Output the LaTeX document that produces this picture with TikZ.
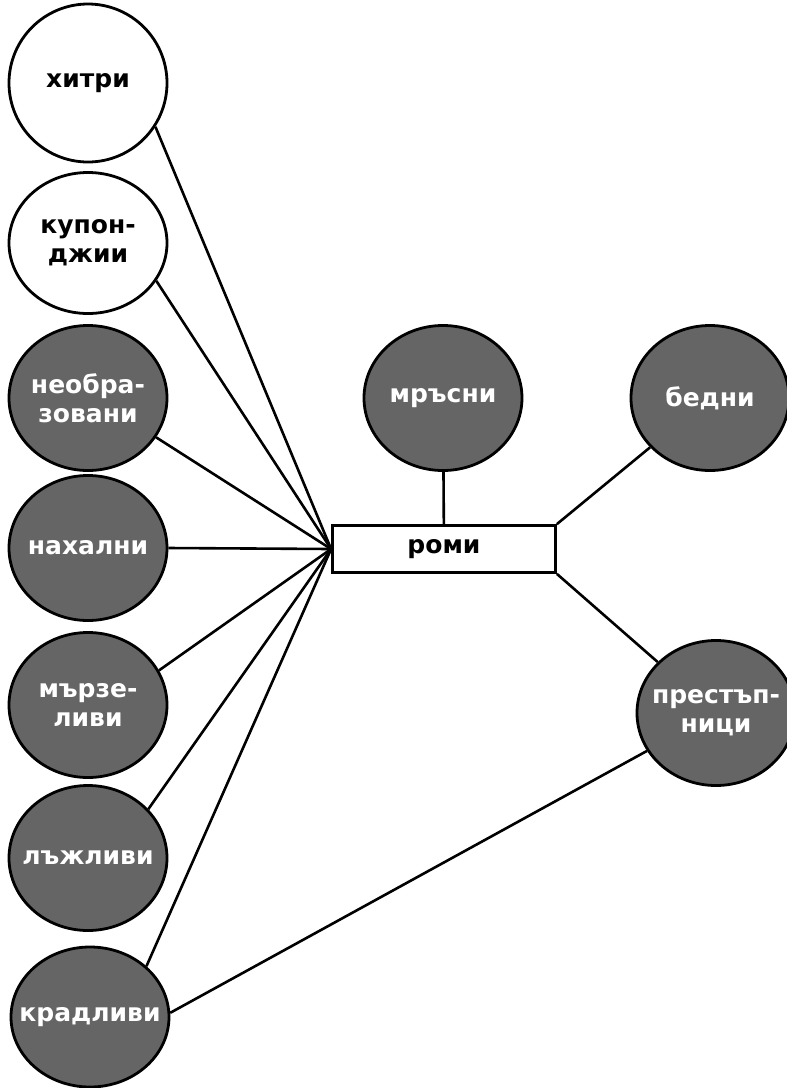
\documentclass[tikz,border=0pt]{standalone}
\usepackage{fontspec}
\setmainfont{DejaVu Sans}
\usetikzlibrary{shapes.geometric}
\definecolor{traitgray}{HTML}{656565}

\tikzset{
    bubble/.style={ellipse, draw=black, line width=2.8pt, minimum width=158pt, minimum height=145pt, inner sep=0pt},
    txt/.style={font=\bfseries\fontsize{25}{29}\selectfont, align=center},
    pos/.style={bubble, fill=white, label={[txt, text=black]center:#1}},
    neg/.style={bubble, fill=traitgray, label={[txt, text=white]center:#1}},
    link/.style={line width=2.6pt},
}

\begin{document}
\begin{tikzpicture}[x=1pt, y=-1pt]
    \useasboundingbox (0,0) rectangle (787,1088); % page frame
    \node [pos={хитри}, minimum height=158pt] (hitri) at (88,83) {}; % top white bubble
    \node [pos={купон-\\джии}, minimum height=141pt] (kupon) at (88,243) {}; % second white bubble
    \node [neg={необра-\\зовани}] (neobr) at (88,398) {}; % left column
    \node [neg={нахални}] (nahal) at (88,548) {};
    \node [neg={мързе-\\ливи}] (marzel) at (88,705) {};
    \node [neg={лъжливи}] (lazhl) at (88,858) {};
    \node [neg={крадливи}, minimum height=140pt] (kradl) at (90,1017) {}; % bottom of column
    \node [neg={мръсни}] (mrasni) at (443,398) {}; % above roma
    \node [neg={бедни}] (bedni) at (710,398) {}; % top right
    \node [neg={престъп-\\ници}] (prest) at (716,713) {}; % bottom right
    \node [draw, line width=2.8pt, fill=white, minimum width=223pt, minimum height=47pt, inner sep=0pt, txt] (romi) at (444,549) {роми}; % centre box
    % left column to the box
    \foreach \n/\a in {hitri/-33, kupon/-29, neobr/-30, nahal/0, marzel/26, lazhl/39, kradl/42}
        \draw [link] (\n.\a) -- (romi.west);
    \draw [link] (mrasni) -- (romi);
    \draw [link] (romi.north east) -- (bedni);
    \draw [link] (romi.south east) -- (prest);
    \draw [link] (kradl.3) -- (prest);
\end{tikzpicture}
\end{document}
